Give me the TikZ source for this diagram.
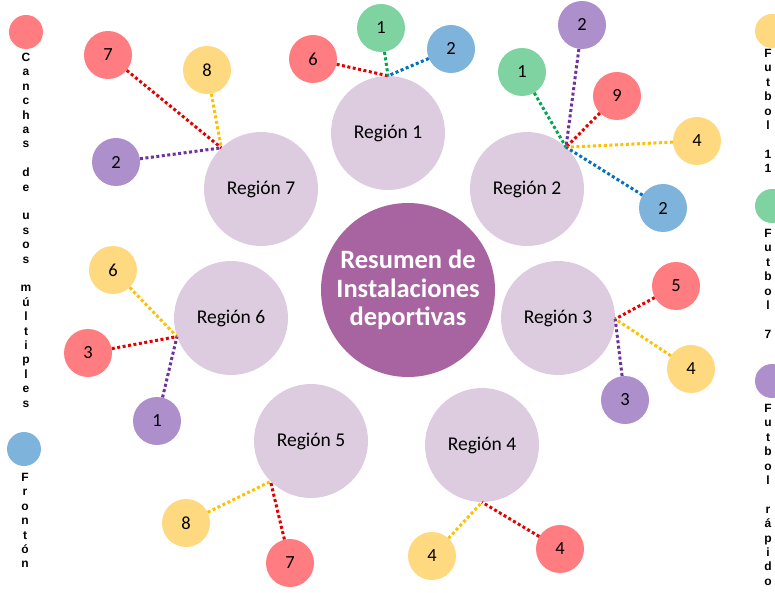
\documentclass[tikz,border=0pt]{standalone}
\usepackage{fontspec}
\setmainfont{Carlito}
\newfontfamily\legendfont{Liberation Sans}
\usetikzlibrary{positioning}

\definecolor{regfill}{RGB}{221,204,224}
\definecolor{mainfill}{RGB}{168,100,160}
\definecolor{fred}{RGB}{255,124,128}
\definecolor{fgreen}{RGB}{126,211,160}
\definecolor{fblue}{RGB}{126,179,220}
\definecolor{fyellow}{RGB}{255,217,127}
\definecolor{fpurple}{RGB}{172,143,203}
\definecolor{lred}{RGB}{228,0,0}
\definecolor{lgreen}{RGB}{0,166,80}
\definecolor{lblue}{RGB}{0,112,192}
\definecolor{lyellow}{RGB}{255,192,0}
\definecolor{lpurple}{RGB}{112,48,160}

\begin{document}
\begin{tikzpicture}[x=1pt,y=-1pt,
		region/.style={circle, fill=regfill, minimum size=114pt, inner sep=0pt, font=\fontsize{19.5}{22}\selectfont},
		small/.style={circle, minimum size=48pt, inner sep=0pt, font=\fontsize{18.5}{20}\selectfont},
		key/.style={circle, minimum size=34pt, inner sep=0pt},
		keytext/.style={align=center, inner sep=0pt, anchor=north, font=\legendfont\bfseries\fontsize{12}{14.4}\selectfont},
		link/.style={line width=3pt, dash pattern=on 3pt off 2.5pt}]
		\useasboundingbox (0,0) rectangle (775,593);
		\node[circle, fill=mainfill, minimum size=174pt, inner sep=0pt, text=white, align=center,
			font=\bfseries\fontsize{26.5}{28.5}\selectfont] (main) at (408,290) {Resumen de\\Instalaciones\\deportivas};
		\foreach \nm/\xx/\yy/\lab in {r1/388/133/1, r2/527/189/2, r3/558/318/3, r4/482/445/4,
			r5/311/441/5, r6/231/318/6, r7/261/189/7} {
			\node[region] (\nm) at (\xx,\yy) {Región \lab};
		}
		\foreach \nm/\xx/\yy/\fc/\lab in {r1red/313/59/fred/6, r1green/381/28/fgreen/1, r1blue/451/49/fblue/2,
			r2purple/582/25/fpurple/2, r2green/522/72/fgreen/1, r2red/617/96/fred/9,
			r2yellow/697/141/fyellow/4, r2blue/663/208/fblue/2,
			r3red/676/286/fred/5, r3yellow/691/369/fyellow/4, r3purple/625/400/fpurple/3,
			r4yellow/432/556/fyellow/4, r4red/560/549/fred/4,
			r5yellow/186/523/fyellow/8, r5red/290/563/fred/7,
			r6yellow/113/270/fyellow/6, r6red/88/353/fred/3, r6purple/157/421/fpurple/1,
			r7red/108/55/fred/7, r7yellow/207/70/fyellow/8, r7purple/116/162/fpurple/2} {
			\node[small, fill=\fc] (\nm) at (\xx,\yy) {\lab};
		}
		\foreach \g/\a/\cols in {r1/90/{red,green,blue}, r2/47/{green,purple,red,yellow,blue},
			r3/359/{red,yellow,purple}, r4/270/{yellow,red}, r5/225/{yellow,red},
			r6/199/{yellow,red,purple}, r7/134/{red,yellow,purple}} {
			\foreach \col in \cols {
				\draw [link, l\col] (\g\col) -- (\g.\a);
			}
		}
		\node[key, fill=fred] (keyred) at (26,32) {};
		\node[keytext] (keyredtext) at (26,53) {C\\a\\n\\c\\h\\a\\s\\[14.4pt]d\\e\\[14.4pt]u\\s\\o\\s\\[14.4pt]m\\ú\\l\\t\\i\\p\\l\\e\\s};
		\node[key, fill=fblue] (keyblue) at (24,449) {};
		\node[keytext] (keybluetext) at (25,473) {F\\r\\o\\n\\t\\ó\\n};
		\node[key, fill=fyellow] (keyyellow) at (772,31) {};
		\node[keytext] (keyyellowtext) at (768,49) {F\\u\\t\\b\\o\\l\\[14.4pt]1\\1};
		\node[key, fill=fgreen] (keygreen) at (772,206) {};
		\node[keytext] (keygreentext) at (768,229) {F\\u\\t\\b\\o\\l\\[14.4pt]7};
		\node[key, fill=fpurple] (keypurple) at (772,381) {};
		\node[keytext] (keypurpletext) at (768,404) {F\\u\\t\\b\\o\\l\\[14.4pt]r\\á\\p\\i\\d\\o};
	\end{tikzpicture}
\end{document}
